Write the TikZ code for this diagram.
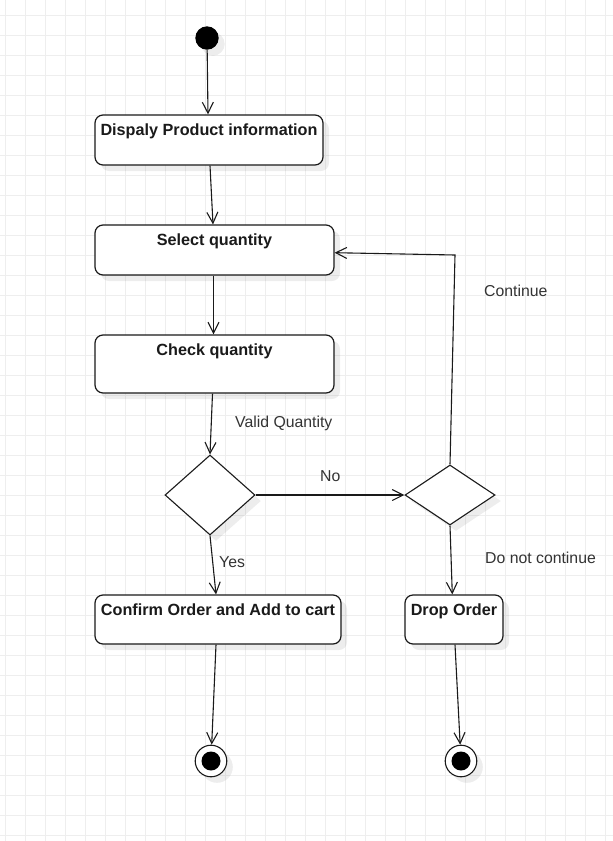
\documentclass[tikz,border=0pt]{standalone}
\usepackage{fontspec}
\setmainfont{Liberation Sans}
\usetikzlibrary{arrows.meta,shapes.geometric,shadows,calc}
\definecolor{gridc}{HTML}{EEEEEE}
\definecolor{ink}{HTML}{1A1A1A}
\definecolor{labc}{HTML}{333333}
\begin{document}
\begin{tikzpicture}[x=1pt,y=-1pt,
 shd/.style={drop shadow={shadow xshift=6pt,shadow yshift=-6pt,opacity=0.07,fill=black}},
 actbox/.style={draw=ink,line width=1.2pt,rounded corners=8pt,fill=white,shd,inner sep=0pt},
 dec/.style={diamond,draw=ink,line width=1.1pt,fill=white,shd,inner sep=0pt,minimum width=90pt},
 btext/.style={font=\bfseries\fontsize{16.2}{19}\selectfont,text=ink,anchor=base,inner sep=0pt},
 ltext/.style={font=\fontsize{15.8}{18}\selectfont,text=labc,anchor=base west,inner sep=0pt},
 flow/.style={draw=ink,line width=1.1pt,-{Straight Barb[length=11pt,width=11pt]}},
 gridline/.style={draw=gridc,line width=0.9pt},
 ]
\useasboundingbox (0,0) rectangle (613,841);
\fill[white] (0,0) rectangle (613,841);
\foreach \gx in {5,25,...,605} \draw[gridline] (\gx,0) -- (\gx,841);
\foreach \gy in {15,35,...,835} \draw[gridline] (0,\gy) -- (613,\gy);

% start
\node[circle,fill=black,minimum size=23.4pt,inner sep=0pt,shd] (s) at (207,38) {};

% activities
\node[actbox,minimum width=228pt,minimum height=50pt] (b1) at (209,140) {};
\node[btext] (t1) at ([yshift=-21pt]b1.north) {Dispaly Product information};
\node[actbox,minimum width=239pt,minimum height=50pt] (b2) at (214.5,250) {};
\node[btext] (t2) at ([yshift=-21pt]b2.north) {Select quantity};
\node[actbox,minimum width=239pt,minimum height=58pt] (b3) at (214.5,364) {};
\node[btext] (t3) at ([yshift=-21pt]b3.north) {Check quantity};
\node[actbox,minimum width=246pt,minimum height=49pt] (b4) at (218,619.5) {};
\node[btext] (t4) at ([yshift=-21pt]b4.north) {Confirm Order and Add to cart};
\node[actbox,minimum width=98pt,minimum height=49pt] (b5) at (454,619.5) {};
\node[btext] (t5) at ([yshift=-21pt]b5.north) {Drop Order};

% decisions
\node[dec,minimum height=80pt] (d1) at (210,495) {};
\node[dec,minimum height=60pt] (d2) at (450,495) {};

% ends
\node[circle,draw=ink,line width=1.1pt,fill=white,minimum size=31.6pt,inner sep=0pt,shd] (e1) at (211,761) {};
\node[circle,fill=black,minimum size=19pt,inner sep=0pt] (e1i) at (e1) {};
\node[circle,draw=ink,line width=1.1pt,fill=white,minimum size=31.6pt,inner sep=0pt,shd] (e2) at (461,761) {};
\node[circle,fill=black,minimum size=19pt,inner sep=0pt] (e2i) at (e2) {};

% connectors
\coordinate (k) at (455,255);
\draw[flow] (s) -- ([xshift=-1pt]b1.north);
\draw[flow] ([xshift=1pt]b1.south) -- ([xshift=-1.5pt]b2.north);
\draw[flow] ([xshift=-1pt]b2.south) -- ([xshift=-1pt]b3.north);
\draw[flow] ([xshift=-2pt]b3.south) -- (d1.north);
\draw[flow] (d1.east) -- (d2.west);
\draw[flow] (d1.south) -- ([xshift=-2pt]b4.north);
\draw[flow] (d2.north) -- (k) -- ([yshift=-2.7pt]b2.east);
\draw[flow] (d2.south) -- ([xshift=-1.7pt]b5.north);
\draw[flow] ([xshift=-2pt]b4.south) -- (e1);
\draw[flow] ([xshift=1pt]b5.south) -- (e2);

% labels
\node[ltext] (l1) at (235,427) {Valid Quantity};
\node[ltext] (l2) at (320,481) {No};
\node[ltext] (l3) at (219,567) {Yes};
\node[ltext] (l4) at (484,296) {Continue};
\node[ltext] (l5) at (485,563) {Do not continue};
\end{tikzpicture}
\end{document}
